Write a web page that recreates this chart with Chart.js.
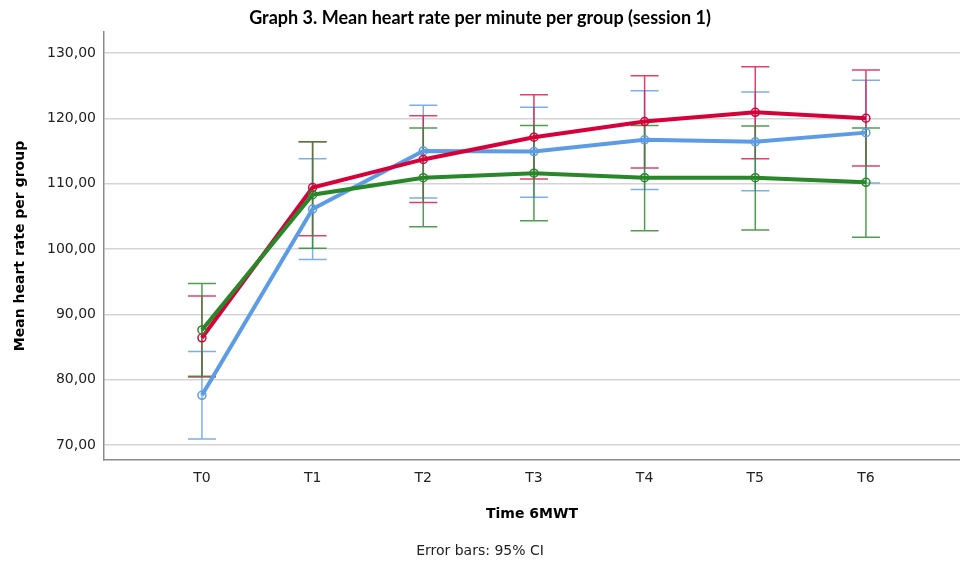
<!DOCTYPE html>
<html>
<head>
<meta charset="utf-8">
<script src="https://cdn.jsdelivr.net/npm/chart.js@4"></script>
<style>
  html, body { margin: 0; padding: 0; background: #fff; }
</style>
</head>
<body>
<canvas id="chart" width="960" height="565"></canvas>
<script>
var timePoints = ["T0", "T1", "T2", "T3", "T4", "T5", "T6"];
var yTicks = [70, 80, 90, 100, 110, 120, 130];

// group means and 95% CI bounds
var blueMean = [77.6, 106.1, 115.0, 114.9, 116.7, 116.4, 117.8];
var blueLow = [70.9, 98.4, 107.8, 107.9, 109.1, 108.9, 110.1];
var blueHigh = [84.3, 113.8, 122.0, 121.7, 124.2, 124.0, 125.8];

var redMean = [86.4, 109.4, 113.7, 117.1, 119.5, 120.9, 120.0];
var redLow = [80.4, 102.0, 107.1, 110.7, 112.4, 113.8, 112.7];
var redHigh = [92.8, 116.4, 120.4, 123.6, 126.5, 127.9, 127.4];

var greenMean = [87.6, 108.3, 110.9, 111.6, 110.9, 110.9, 110.2];
var greenLow = [80.5, 100.1, 103.4, 104.3, 102.8, 102.9, 101.8];
var greenHigh = [94.7, 116.4, 118.5, 118.9, 118.9, 118.8, 118.5];

function toPoints(values) {
  return values.map(function(v, i) {
    return { x: i, y: v };
  });
}

function makeDataset(mean, low, high, color, barColor) {
  return {
    data: toPoints(mean),
    low: low,
    high: high,
    barColor: barColor,
    borderColor: color,
    borderWidth: 4,
    tension: 0,
    pointRadius: 4,
    pointBorderWidth: 1.5,
    pointBorderColor: color,
    pointBackgroundColor: "rgba(255,255,255,0)",
  };
}

// draws the CI whiskers under the lines
var errorBars = {
  id: "errorBars",
  beforeDatasetsDraw: function(chart) {
    var ctx = chart.ctx;
    var xs = chart.scales.x;
    var ys = chart.scales.y;
    chart.data.datasets.slice().reverse().forEach(function(ds) {
      ctx.save();
      ctx.strokeStyle = ds.barColor;
      ctx.lineWidth = 1.5;
      ds.low.forEach(function(lo, i) {
        var x = xs.getPixelForValue(i);
        var y1 = ys.getPixelForValue(lo);
        var y2 = ys.getPixelForValue(ds.high[i]);
        ctx.beginPath();
        ctx.moveTo(x, y1);
        ctx.lineTo(x, y2);
        ctx.moveTo(x - 14, y1);
        ctx.lineTo(x + 14, y1);
        ctx.moveTo(x - 14, y2);
        ctx.lineTo(x + 14, y2);
        ctx.stroke();
      });
      ctx.restore();
    });
  },
};

var chartConfig = {
  type: "line",
  data: {
    datasets: [
      makeDataset(greenMean, greenLow, greenHigh, "rgb(40,135,40)", "rgba(50,140,50,0.85)"),
      makeDataset(redMean, redLow, redHigh, "rgb(214,0,58)", "rgba(220,30,80,0.85)"),
      makeDataset(blueMean, blueLow, blueHigh, "rgb(92,156,230)", "rgba(110,165,235,0.9)"),
    ],
  },
  options: {
    responsive: false,
    animation: false,
    devicePixelRatio: 1,
    layout: { padding: 0, autoPadding: false },
    plugins: {
      legend: { display: false },
      tooltip: { enabled: false },
      title: {
        display: true,
        text: "Graph 3. Mean heart rate per minute per group (session 1)",
        color: "#000",
        font: { family: "Lato", size: 18, weight: "bold", lineHeight: 1.2 },
        padding: { top: 7, bottom: 3.4 },
      },
      subtitle: {
        display: true,
        position: "bottom",
        text: "Error bars: 95% CI",
        color: "#222",
        font: { family: "DejaVu Sans", size: 14, weight: "normal", lineHeight: 1.2 },
        padding: { top: 12.6, bottom: 5.6 },
      },
    },
    scales: {
      x: {
        type: "linear",
        min: -0.885,
        max: 6.85,
        afterBuildTicks: function(scale) {
          scale.ticks = timePoints.map(function(t, i) {
            return { value: i };
          });
        },
        afterFit: function(scale) {
          scale.height = 70;
        },
        grid: { display: false, drawTicks: false },
        border: { color: "#8a8a8a", width: 1.5 },
        ticks: {
          padding: 10,
          color: "#222",
          font: { family: "DejaVu Sans", size: 14 },
          callback: function(value) {
            return timePoints[value];
          },
        },
        title: {
          display: true,
          text: "Time 6MWT",
          color: "#000",
          font: { family: "DejaVu Sans", size: 14, weight: "bold", lineHeight: 1.2 },
          padding: { top: 0, bottom: 7 },
        },
      },
      y: {
        min: 67.7,
        max: 133.2,
        afterBuildTicks: function(scale) {
          scale.ticks = yTicks.map(function(v) {
            return { value: v };
          });
        },
        afterFit: function(scale) {
          scale.width = 104;
        },
        grid: { color: "#d4d4d4", lineWidth: 1.5, drawTicks: false },
        border: { color: "#8a8a8a", width: 1.5 },
        ticks: {
          padding: 8,
          color: "#222",
          font: { family: "DejaVu Sans", size: 14 },
          callback: function(value) {
            return value.toFixed(2).replace(".", ",");
          },
        },
        title: {
          display: true,
          text: "Mean heart rate per group",
          color: "#000",
          font: { family: "DejaVu Sans", size: 14, weight: "bold", lineHeight: 1.2 },
          padding: { top: 12, bottom: 0 },
        },
      },
    },
  },
  plugins: [errorBars],
};

new Chart(document.getElementById("chart"), chartConfig);
</script>
</body>
</html>
